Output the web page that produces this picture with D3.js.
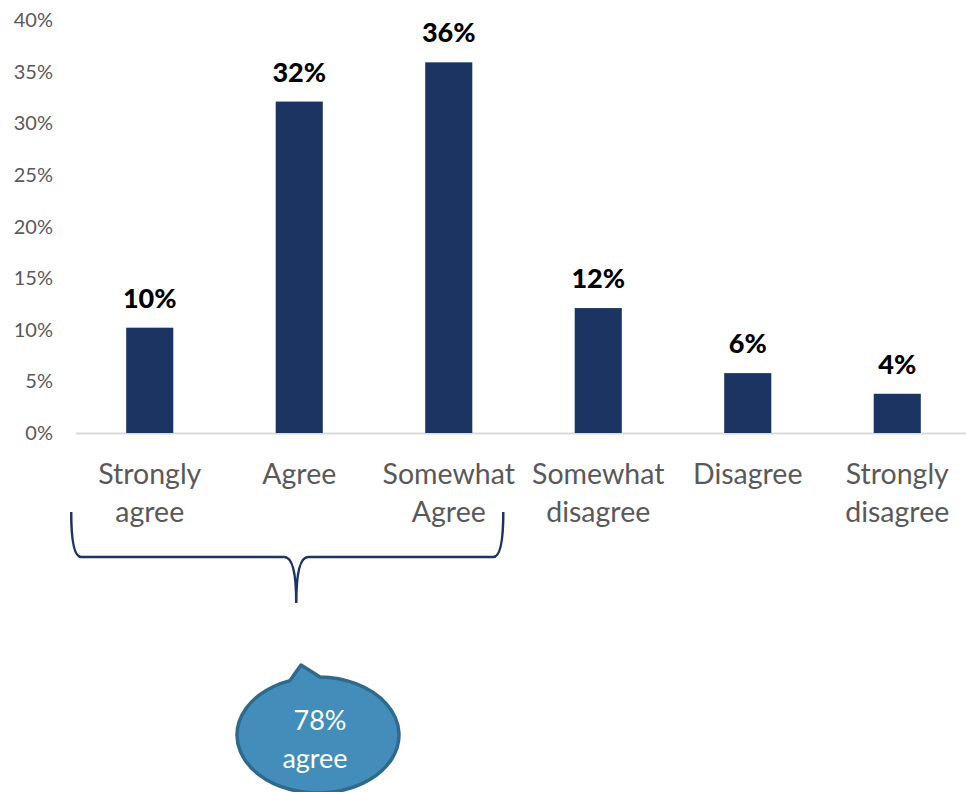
<!DOCTYPE html>
<html><head><meta charset="utf-8">
<script src="https://cdn.jsdelivr.net/npm/d3@7"></script>
<style>body{margin:0;background:#fff}svg{display:block}</style>
</head><body>
<svg id="c" width="966" height="792"></svg>
<script>
const categories = [["Strongly","agree"],["Agree"],["Somewhat","Agree"],["Somewhat","disagree"],["Disagree"],["Strongly","disagree"]];
const values = [10.2, 32.1, 35.9, 12.1, 5.8, 3.8];
const valueLabels = ["10%","32%","36%","12%","6%","4%"];
const yTicks = [0,5,10,15,20,25,30,35,40];
const bracketStart = 0, bracketEnd = 2;
const calloutLines = ["78%","agree"];

const svg = d3.select("#c");
const font = "Lato, 'Open Sans', sans-serif";
const x = d3.scaleBand().domain(d3.range(categories.length)).range([75, 972]).paddingInner(0.685).paddingOuter(0.3425);
const y = d3.scaleLinear().domain([0,40]).range([433, 20]);

// y axis labels
svg.append("g").selectAll("text").data(yTicks).join("text")
  .attr("x", 53).attr("y", d => y(d)).attr("dy","0.35em")
  .attr("text-anchor","end").attr("font-family",font).attr("font-size",20).attr("fill","#595959")
  .text(d => d + "%");

// axis line
svg.append("line").attr("x1",76).attr("x2",972).attr("y1",y(0)+0.5).attr("y2",y(0)+0.5)
  .attr("stroke","#d9d9d9").attr("stroke-width",2);

// bars
svg.append("g").selectAll("rect").data(values).join("rect")
  .attr("x",(d,i)=>x(i)).attr("width",x.bandwidth())
  .attr("y",d=>y(d)).attr("height",d=>y(0)-y(d)).attr("fill","#1c3461");

// value labels
svg.append("g").selectAll("text").data(values).join("text")
  .attr("x",(d,i)=>x(i)+x.bandwidth()/2).attr("y",d=>y(d)-20)
  .attr("text-anchor","middle").attr("font-family",font).attr("font-weight","900")
  .attr("font-size",27).attr("fill","#000").text((d,i)=>valueLabels[i]);

// category labels
const cat = svg.append("g").selectAll("text").data(categories).join("text")
  .attr("text-anchor","middle").attr("font-family",font).attr("font-size",28.5).attr("fill","#595959");
cat.each(function(lines,i){
  const t = d3.select(this);
  lines.forEach((l,j)=>t.append("tspan").attr("x",x(i)+x.bandwidth()/2).attr("y",484+j*38).text(l));
});

// brace
const bx0 = x(bracketStart) - 55, bx1 = x(bracketEnd) + x.bandwidth() + 31;
const bm = x(1) + x.bandwidth()/2 - 3;
const by = 557;
svg.append("path")
  .attr("d",`M${bx0},512 Q${bx0},${by} ${bx0+10},${by} L${bm-12},${by} Q${bm},${by} ${bm},${by+46} Q${bm},${by} ${bm+12},${by} L${bx1-10},${by} Q${bx1},${by} ${bx1},512`)
  .attr("fill","none").attr("stroke","#1c3461").attr("stroke-width",2.5);

// callout bubble
const cx = 318, cy = 735, rx = 81, ry = 58;
const ey = xx => cy - ry*Math.sqrt(1 - ((xx-cx)/rx)**2);
const bl = 290, br = 320;
svg.append("path")
  .attr("d",`M${br},${ey(br)} A${rx},${ry} 0 1 1 ${bl},${ey(bl)} L301,665 Z`)
  .attr("fill","#428db9").attr("stroke","#2f6a8c").attr("stroke-width",3.5).attr("stroke-linejoin","round");
svg.append("g").selectAll("text").data(calloutLines).join("text")
  .attr("x",(d,i)=>i===0?320:315).attr("y",(d,i)=>730+i*38).attr("text-anchor","middle")
  .attr("font-family",font).attr("font-size",27).attr("fill","#fff").text(d=>d);
</script>
</body></html>
